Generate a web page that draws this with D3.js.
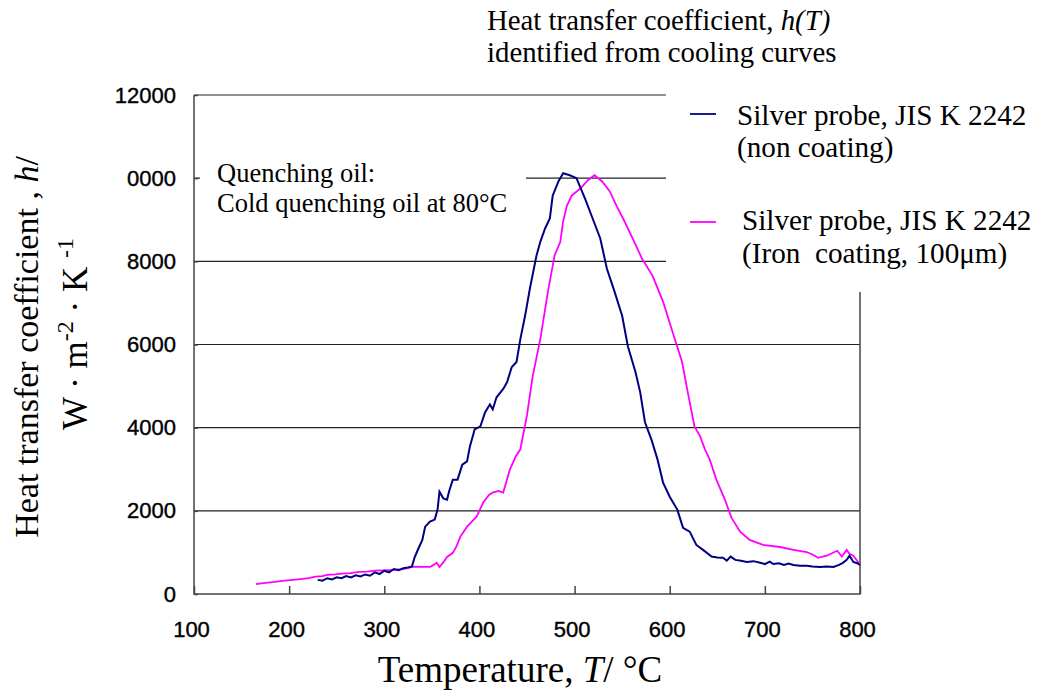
<!DOCTYPE html>
<html>
<head>
<meta charset="utf-8">
<title>Heat transfer coefficient h(T)</title>
<script src="https://cdn.jsdelivr.net/npm/d3@7"></script>
<style>
    body { margin: 0; padding: 0; background: #fff; }
    .tick text { font-family: "Liberation Sans", Arial, sans-serif; font-size: 22px; fill: #000; stroke: #000; stroke-width: 0.4px; }
    .serif { font-family: "Liberation Serif", "Times New Roman", serif; fill: #000; white-space: pre; }
    .grid line { stroke: #222; stroke-width: 1.2px; }
    .frame { stroke: #444; stroke-width: 1.5px; fill: none; }
</style>
</head>
<body>
<svg id="chart" width="1038" height="692"></svg>
<script>
// tick values and labels as they appear on the picture
const xTicks = [100, 200, 300, 400, 500, 600, 700, 800];
const yTicks = [0, 2000, 4000, 6000, 8000, 10000, 12000];
const yTickLabels = ["0", "2000", "4000", "6000", "8000", "0000", "12000"];

// [temperature °C, h W/m2K]
const nonCoating = [
    [230, 340], [235, 320], [240, 380], [245, 350], [250, 400], [255, 380], [260, 430], [265, 400],
    [270, 450], [275, 420], [280, 470], [285, 440], [290, 520], [295, 480], [300, 560], [305, 520],
    [310, 600], [315, 570], [320, 620], [325, 640], [329, 660], [332, 890], [336, 1100], [340, 1300],
    [343, 1620], [348, 1740], [353, 1790], [356, 2030], [358, 2460], [362, 2300], [366, 2270], [368, 2460],
    [372, 2750], [377, 2750], [382, 3110], [387, 3190], [390, 3550], [395, 3960], [401, 4030], [406, 4370],
    [411, 4560], [414, 4440], [418, 4730], [425, 4930], [429, 5090], [434, 5460], [439, 5580], [443, 6130],
    [448, 6690], [453, 7340], [460, 8140], [464, 8470], [469, 8790], [474, 9030], [477, 9580], [483, 9920],
    [488, 10120], [495, 10070], [502, 10000], [511, 9510], [519, 9030], [527, 8550], [534, 7820], [542, 7270],
    [550, 6690], [556, 5960], [564, 5340], [569, 4850], [574, 4130], [581, 3700], [587, 3250], [593, 2680],
    [600, 2340], [608, 2030], [614, 1590], [621, 1500], [628, 1180], [635, 1060], [644, 900], [650, 880],
    [656, 870], [660, 800], [664, 900], [669, 820], [675, 800], [681, 770], [688, 790], [695, 750],
    [700, 720], [705, 780], [709, 720], [715, 740], [720, 700], [725, 730], [730, 700], [737, 680],
    [744, 680], [750, 660], [758, 650], [765, 660], [772, 650], [778, 700], [782, 750], [786, 820],
    [789, 920], [793, 770], [797, 740], [800, 700]
];

const ironCoating = [
    [165, 240], [175, 270], [185, 290], [195, 320], [204, 340], [212, 360], [220, 380], [228, 420],
    [235, 430], [240, 460], [248, 470], [256, 490], [264, 500], [274, 530], [282, 540], [290, 560],
    [300, 570], [309, 580], [318, 600], [325, 620], [330, 660], [338, 650], [348, 650], [352, 700],
    [355, 750], [358, 650], [362, 760], [366, 890], [372, 990], [376, 1150], [380, 1380], [387, 1620],
    [397, 1860], [404, 2200], [410, 2380], [414, 2440], [420, 2480], [425, 2440], [432, 2990], [438, 3300],
    [443, 3480], [450, 4300], [456, 5240], [464, 6130], [472, 7270], [479, 8140], [485, 8470], [488, 8960],
    [492, 9340], [497, 9580], [506, 9750], [514, 9950], [521, 10070], [529, 9920], [537, 9680], [544, 9340],
    [551, 9030], [561, 8550], [571, 8060], [582, 7650], [593, 7030], [603, 6300], [613, 5580], [619, 4850],
    [626, 4030], [632, 3790], [637, 3480], [642, 3240], [649, 2750], [658, 2270], [665, 1830], [674, 1500],
    [684, 1300], [698, 1180], [716, 1130], [730, 1060], [744, 1010], [750, 950], [756, 870], [765, 920],
    [776, 1040], [781, 900], [786, 1060], [789, 960], [793, 920], [797, 800], [800, 700]
];

const margin = { top: 95, right: 178, bottom: 98, left: 194 };
const W = 1038, H = 692;
const width = W - margin.left - margin.right;
const height = H - margin.top - margin.bottom;

const svg = d3.select("#chart");

const x = d3.scaleLinear().domain([100, 800]).range([margin.left, margin.left + width]);
const y = d3.scaleLinear().domain([0, 12000]).range([margin.top + height, margin.top]);

// gridlines
svg.append("g")
    .attr("class", "grid")
    .selectAll("line")
    .data(yTicks.filter(d => d > 0))
    .enter()
    .append("line")
    .attr("x1", x(100))
    .attr("x2", x(800))
    .attr("y1", d => y(d))
    .attr("y2", d => y(d));

// plot frame (left, bottom, right)
svg.append("path")
    .attr("class", "frame")
    .attr("d", `M${x(100)},${y(12000)}V${y(0)}H${x(800)}V${y(12000)}`);

// x axis with small inward ticks
const xAxis = svg.append("g")
    .attr("transform", `translate(0,${y(0)})`)
    .call(d3.axisBottom(x).tickValues(xTicks).tickSizeInner(-8).tickSizeOuter(0).tickPadding(27));
xAxis.select(".domain").remove();
xAxis.selectAll(".tick line").attr("stroke", "#444").attr("stroke-width", 1.5);
xAxis.selectAll(".tick text").attr("dx", -3);

const yAxis = svg.append("g")
    .attr("transform", `translate(${x(100)},0)`)
    .call(d3.axisLeft(y).tickValues(yTicks).tickSizeInner(-4).tickSizeOuter(0).tickPadding(18)
        .tickFormat((d, i) => yTickLabels[i]));
yAxis.select(".domain").remove();
yAxis.selectAll(".tick line").attr("stroke", "#444").attr("stroke-width", 1.5);

// white text boxes that sit over the chart, as in the original
svg.append("rect").attr("x", 666).attr("y", 85).attr("width", W - 666).attr("height", 207).attr("fill", "#fff");
svg.append("rect").attr("x", 200).attr("y", 150).attr("width", 326).attr("height", 66).attr("fill", "#fff");

// curves
const line = d3.line().x(d => x(d[0])).y(d => y(d[1]));

svg.append("path")
    .datum(ironCoating)
    .attr("d", line)
    .attr("fill", "none")
    .attr("stroke", "#ff00ff")
    .attr("stroke-width", 1.8);

svg.append("path")
    .datum(nonCoating)
    .attr("d", line)
    .attr("fill", "none")
    .attr("stroke", "#000080")
    .attr("stroke-width", 2);

// title
const title = svg.append("text").attr("class", "serif").attr("x", 487).attr("y", 30).style("font-size", "28.8px");
title.append("tspan").text("Heat transfer coefficient, ");
title.append("tspan").style("font-style", "italic").text("h(T)");
svg.append("text").attr("class", "serif").attr("x", 487).attr("y", 62).style("font-size", "28.8px")
    .text("identified from cooling curves");

// annotation
svg.append("text").attr("class", "serif").attr("x", 217).attr("y", 182).style("font-size", "26.5px")
    .text("Quenching oil:");
svg.append("text").attr("class", "serif").attr("x", 217).attr("y", 212).style("font-size", "26.5px")
    .text("Cold quenching oil at 80°C");

// legend
const legend = [
    { color: "#000080", y: 114, tx: 737, l1: "Silver probe, JIS K 2242", l2: "(non coating)", b1: 125, b2: 157 },
    { color: "#ff00ff", y: 222, tx: 742, l1: "Silver probe, JIS K 2242", l2: "(Iron  coating, 100μm)", b1: 230, b2: 263 }
];
legend.forEach(d => {
    svg.append("line").attr("x1", 690).attr("x2", 716).attr("y1", d.y).attr("y2", d.y)
        .attr("stroke", d.color).attr("stroke-width", 1.8);
    svg.append("text").attr("class", "serif").attr("x", d.tx).attr("y", d.b1).style("font-size", "29.2px").text(d.l1);
    svg.append("text").attr("class", "serif").attr("x", d.tx).attr("y", d.b2).style("font-size", "29.2px").text(d.l2);
});

// axis titles
const xt = svg.append("text").attr("class", "serif").attr("x", 520).attr("y", 682)
    .attr("text-anchor", "middle").style("font-size", "37px");
xt.append("tspan").text("Temperature, ");
xt.append("tspan").style("font-style", "italic").text("T");
xt.append("tspan").text("/ °C");

const yt1 = svg.append("text").attr("class", "serif").attr("text-anchor", "middle")
    .attr("transform", "translate(38,347) rotate(-90)").style("font-size", "34px");
yt1.append("tspan").text("Heat transfer coefficient , ");
yt1.append("tspan").style("font-style", "italic").text("h");
yt1.append("tspan").text("/");

const yt2 = svg.append("text").attr("class", "serif").attr("text-anchor", "middle")
    .attr("transform", "translate(87,334) rotate(-90)").style("font-size", "35px");
yt2.append("tspan").text("W · m");
yt2.append("tspan").attr("dy", -14).style("font-size", "24px").text("-2");
yt2.append("tspan").attr("dy", 14).text(" · K ");
yt2.append("tspan").attr("dy", -14).style("font-size", "24px").text("-1");
</script>
</body>
</html>
